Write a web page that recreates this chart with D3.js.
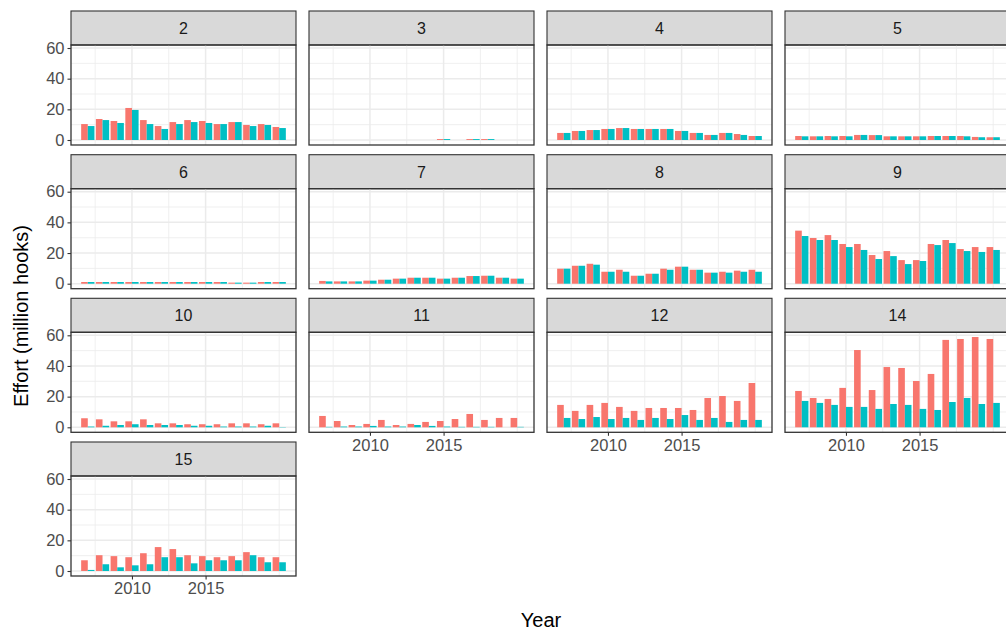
<!DOCTYPE html>
<html><head><meta charset="utf-8">
<script src="https://cdn.jsdelivr.net/npm/d3@7"></script>
<style>body{margin:0;background:#fff}svg{font-family:"Liberation Sans",Arial,sans-serif}</style>
</head><body><svg id="c" width="1006" height="633"></svg>
<script>
const years = d3.range(2007, 2021);
const panels = ["2","3","4","5","6","7","8","9","10","11","12","14","15"];
const seriesA = {
 "2":[10.4,13.7,12.4,20.9,13,9.1,11.7,13,12.4,10.4,11.7,9.8,10.4,8.5],
 "3":[0,0,0,0,0,0,0,0,0.6,0,0.6,0.6,0,0],
 "4":[4.6,5.9,6.5,7.2,7.8,7.2,7.2,7.2,5.9,4.6,3.3,4.6,3.9,2.6],
 "5":[2.6,2.4,2.6,2.6,3.3,3.2,2.4,2.4,2.4,2.6,2.6,2.6,2,1.8],
 "6":[1.1,1.1,1.1,1.1,1.1,1.1,1.1,1.1,1.1,1.1,0.7,0.7,1.1,1.1],
 "7":[1.8,1.5,1.5,2,2.6,3.3,3.9,3.9,3.3,3.9,5,5.2,3.9,3.3],
 "8":[9.8,11.7,13,7.8,9.1,5.2,6.5,9.8,11.1,9.1,7.2,7.8,8.5,9.1],
 "9":[34.6,29.8,31.7,25.9,25.9,18.7,21.3,15.4,15.4,25.9,28.5,22.6,23.9,23.9],
 "10":[5.9,5.2,3.9,3.9,5.2,2.6,2.6,2,2,2,2.6,2.6,2,2.6],
 "11":[7.4,4.1,1.5,2.2,4.8,1.5,2.2,3.5,4.1,5.4,8.7,4.8,6.1,6.1],
 "12":[14.6,10.7,14.6,15.9,13.3,10.7,12.6,12.6,12.6,11.3,19.1,20.4,17.2,28.9],
 "14":[23.7,19.1,18.5,25.7,50.4,24.3,39.3,38.7,30.2,34.8,57,57.6,58.9,57.6],
 "15":[7,10.3,9.7,9,11.6,15.6,14.3,10.3,9.7,9,9.7,12.3,9,9]
};
const seriesB = {
 "2":[9.1,13,11.1,19.6,10.4,7.2,10.4,11.7,11.1,10.4,11.7,9.1,9.8,7.8],
 "3":[0,0,0,0,0,0,0,0,0.6,0,0.6,0.6,0,0],
 "4":[4.6,5.9,6.5,7.2,7.8,7.2,7.2,7.2,5.9,4.6,3.3,4.6,3.3,2.6],
 "5":[2.4,2.4,2.4,2.4,3.3,3.2,2.4,2.4,2.4,2.6,2.6,2.4,1.8,1.8],
 "6":[1.1,1.1,1.1,1.1,1.1,1.1,1.1,1.1,1.1,1.1,0.7,0.7,1.1,1.1],
 "7":[1.5,1.5,1.5,2,2.6,3.3,3.9,3.9,3.3,3.9,5,5.2,3.9,3.3],
 "8":[9.8,11.7,12.4,7.8,7.8,5.2,6.5,9.1,11.1,9.1,7.2,7.2,7.8,7.8],
 "9":[31.1,28.5,28.5,23.9,22,16.1,18,12.8,14.8,25.2,26.5,21.3,20.7,22],
 "10":[0.5,1,1.5,2,1.5,1.5,1.5,1,1,0.5,0.5,0.5,1,0.2],
 "11":[0.3,0.5,0.5,0.9,0.5,0.5,1.5,0.9,0.5,0.3,0.3,0.3,0,0.3],
 "12":[6.1,5.4,6.7,5.4,6.1,4.8,6.1,5.4,8,4.8,6.1,3.5,4.8,4.8],
 "14":[17.2,15.9,14.6,13.3,13.3,12,15.2,14.6,12,11.3,16.5,19.1,15.2,15.9],
 "15":[0.7,4.4,2.4,3.7,4.4,9,9,5,7,7,7,10.3,5.7,5.7]
};
const yTicks = [0,20,40,60];
const xTicks = [2010,2015];
const colors = ["#F8766D","#00BFC4"];

const svg = d3.select("#c");
const colX = [71,309,547,785], rowY = [11,154.7,298.3,442];
const pw = 225, sh = 34, ph = 100;
const x = d3.scaleLinear().domain([2005.86,2021.14]).range([0,pw]);
const y = d3.scaleLinear().domain([-3.26,61.96]).range([ph,0]);
const bw = x(2000.45)-x(2000);
const bottomPanels = ["11","12","14","15"];

panels.forEach((p,i)=>{
  const r = Math.floor(i/4), c = i%4;
  const g = svg.append("g").attr("transform",`translate(${colX[c]},${rowY[r]})`);
  g.append("rect").attr("width",pw).attr("height",sh).attr("fill","#D9D9D9").attr("stroke","#333").attr("stroke-width",1.1);
  g.append("text").attr("x",pw/2).attr("y",sh/2+6).attr("text-anchor","middle").attr("font-size",16).attr("fill","#1A1A1A").text(p);
  const pg = g.append("g").attr("transform",`translate(0,${sh})`);
  pg.append("defs").append("clipPath").attr("id","cp"+i).append("rect").attr("width",pw).attr("height",ph);
  const cg = pg.append("g").attr("clip-path",`url(#cp${i})`);
  [10,30,50].forEach(v=>cg.append("line").attr("x1",0).attr("x2",pw).attr("y1",y(v)).attr("y2",y(v)).attr("stroke","#EBEBEB").attr("stroke-width",0.8));
  [2007.5,2012.5,2017.5,2020].forEach(v=>cg.append("line").attr("y1",0).attr("y2",ph).attr("x1",x(v)).attr("x2",x(v)).attr("stroke","#EBEBEB").attr("stroke-width",0.8));
  yTicks.forEach(v=>cg.append("line").attr("x1",0).attr("x2",pw).attr("y1",y(v)).attr("y2",y(v)).attr("stroke","#EBEBEB").attr("stroke-width",1.5));
  xTicks.forEach(v=>cg.append("line").attr("y1",0).attr("y2",ph).attr("x1",x(v)).attr("x2",x(v)).attr("stroke","#EBEBEB").attr("stroke-width",1.5));
  [seriesA[p],seriesB[p]].forEach((vals,k)=>{
    cg.selectAll(null).data(years).join("rect")
      .attr("x",(d)=>x(d)-bw+k*bw).attr("width",bw)
      .attr("y",(d,j)=>y(vals[j])).attr("height",(d,j)=>y(0)-y(vals[j]))
      .attr("fill",colors[k]);
  });
  pg.append("rect").attr("width",pw).attr("height",ph).attr("fill","none").attr("stroke","#333").attr("stroke-width",1.3);
  if(c===0){
    const ya = pg.append("g").call(d3.axisLeft(y).tickValues(yTicks).tickSize(3.5).tickPadding(3));
    ya.select(".domain").remove();
    ya.selectAll("line").attr("stroke","#333").attr("stroke-width",1.1);
    ya.selectAll("text").attr("font-size",16.5).attr("fill","#4D4D4D").attr("font-family","Liberation Sans, Arial, sans-serif");
  }
  if(bottomPanels.includes(p)){
    const xa = pg.append("g").attr("transform",`translate(0,${ph})`).call(d3.axisBottom(x).tickValues(xTicks).tickFormat(d3.format("d")).tickSize(3.5).tickPadding(3));
    xa.select(".domain").remove();
    xa.selectAll("line").attr("stroke","#333").attr("stroke-width",1.1);
    xa.selectAll("text").attr("font-size",16.5).attr("fill","#4D4D4D").attr("font-family","Liberation Sans, Arial, sans-serif");
  }
});
svg.append("text").attr("x",541).attr("y",627).attr("text-anchor","middle").attr("font-size",20).attr("fill","#000").text("Year");
svg.append("text").attr("transform","translate(28,316) rotate(-90)").attr("text-anchor","middle").attr("font-size",20).attr("fill","#000").text("Effort (million hooks)");
</script></body></html>
